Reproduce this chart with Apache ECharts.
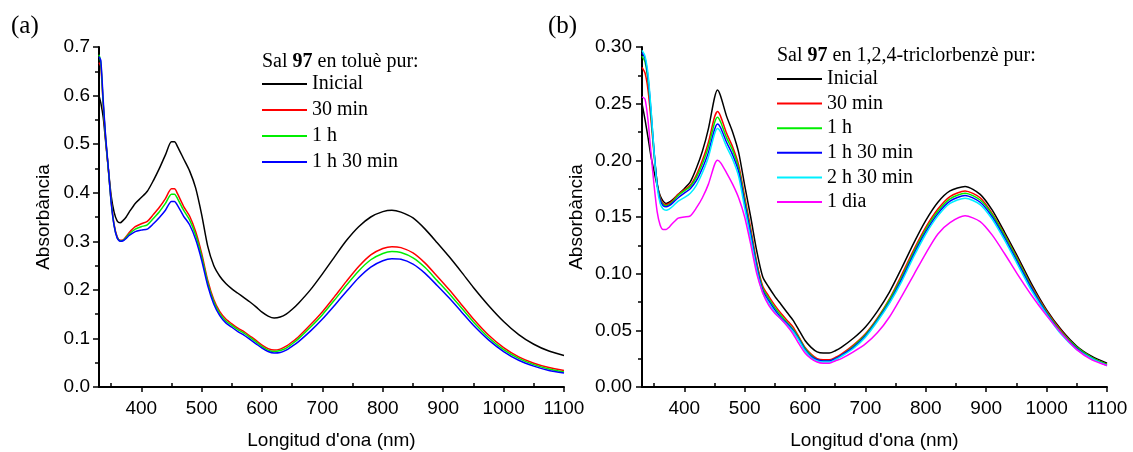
<!DOCTYPE html>
<html>
<head>
<meta charset="utf-8">
<script src="https://cdn.jsdelivr.net/npm/echarts@6/dist/echarts.min.js"></script>
<style>
html,body{margin:0;padding:0;background:#fff;}
#chart{width:1133px;height:452px;}
</style>
</head>
<body>
<div id="chart"></div>
<script>
// ---------- DATA ----------
const WL_A = [330,333,337,341,345,350,355,360,365,370,375,380,390,400,410,420,430,440,450,455,460,470,480,490,500,510,520,530,540,550,560,570,580,590,600,610,620,630,640,650,660,680,700,720,740,760,780,800,815,830,850,870,890,910,930,950,975,1000,1025,1050,1075,1100];
const A_INICIAL = [0.600,0.585,0.555,0.505,0.455,0.395,0.360,0.342,0.338,0.343,0.350,0.360,0.378,0.390,0.403,0.425,0.450,0.478,0.505,0.505,0.495,0.470,0.445,0.410,0.355,0.290,0.250,0.228,0.213,0.202,0.193,0.184,0.175,0.165,0.154,0.146,0.142,0.144,0.150,0.160,0.172,0.200,0.233,0.268,0.302,0.330,0.350,0.361,0.364,0.360,0.348,0.325,0.297,0.268,0.237,0.205,0.168,0.135,0.108,0.088,0.074,0.065];
const A_30MIN = [0.668,0.660,0.580,0.510,0.455,0.385,0.335,0.310,0.302,0.303,0.310,0.318,0.330,0.336,0.341,0.355,0.370,0.388,0.408,0.408,0.398,0.372,0.352,0.320,0.275,0.220,0.180,0.155,0.140,0.130,0.121,0.114,0.105,0.096,0.086,0.079,0.076,0.078,0.084,0.093,0.103,0.128,0.155,0.186,0.218,0.248,0.272,0.285,0.289,0.287,0.276,0.255,0.228,0.200,0.170,0.140,0.107,0.081,0.062,0.049,0.040,0.034];
const A_1H = [0.684,0.668,0.583,0.512,0.455,0.383,0.333,0.308,0.301,0.302,0.308,0.315,0.325,0.330,0.334,0.347,0.361,0.378,0.397,0.397,0.388,0.364,0.344,0.313,0.269,0.215,0.176,0.151,0.136,0.127,0.118,0.111,0.102,0.093,0.083,0.076,0.073,0.075,0.080,0.089,0.099,0.123,0.149,0.179,0.210,0.239,0.262,0.275,0.279,0.277,0.266,0.246,0.219,0.192,0.163,0.134,0.102,0.077,0.059,0.046,0.037,0.031];
const A_1H30 = [0.680,0.672,0.590,0.515,0.458,0.382,0.332,0.307,0.300,0.301,0.306,0.312,0.320,0.323,0.325,0.336,0.349,0.364,0.382,0.382,0.374,0.352,0.334,0.304,0.261,0.209,0.171,0.147,0.132,0.123,0.114,0.107,0.098,0.089,0.080,0.073,0.070,0.071,0.076,0.084,0.093,0.115,0.140,0.168,0.197,0.225,0.247,0.260,0.264,0.263,0.253,0.234,0.209,0.183,0.155,0.127,0.097,0.073,0.055,0.043,0.034,0.029];

const WL_B = [330,335,340,345,350,355,360,365,370,375,380,390,400,410,420,430,440,450,455,460,470,480,490,500,510,520,530,540,550,560,570,580,590,600,610,620,630,640,650,660,680,700,720,740,760,780,800,820,840,865,890,910,930,950,975,1000,1025,1050,1075,1100];
const B_INICIAL = [0.250,0.236,0.220,0.203,0.190,0.178,0.169,0.164,0.162,0.163,0.165,0.170,0.175,0.181,0.193,0.208,0.228,0.255,0.262,0.257,0.239,0.225,0.207,0.178,0.150,0.120,0.097,0.088,0.080,0.073,0.066,0.059,0.050,0.041,0.035,0.031,0.030,0.030,0.032,0.035,0.043,0.053,0.067,0.084,0.105,0.127,0.147,0.163,0.173,0.177,0.170,0.156,0.137,0.117,0.091,0.068,0.050,0.036,0.027,0.021];
const B_30MIN = [0.282,0.277,0.262,0.235,0.205,0.180,0.167,0.162,0.161,0.162,0.164,0.170,0.174,0.178,0.187,0.200,0.216,0.238,0.243,0.239,0.224,0.212,0.196,0.168,0.140,0.110,0.089,0.080,0.072,0.065,0.059,0.053,0.044,0.035,0.029,0.025,0.024,0.024,0.026,0.029,0.037,0.047,0.061,0.078,0.099,0.121,0.141,0.157,0.168,0.173,0.167,0.153,0.135,0.115,0.089,0.067,0.049,0.035,0.026,0.020];
const B_1H = [0.292,0.287,0.270,0.240,0.207,0.180,0.166,0.161,0.160,0.161,0.163,0.169,0.173,0.177,0.185,0.197,0.212,0.233,0.238,0.234,0.220,0.209,0.193,0.165,0.137,0.108,0.087,0.078,0.070,0.063,0.057,0.051,0.043,0.034,0.028,0.024,0.023,0.023,0.025,0.028,0.036,0.046,0.060,0.077,0.097,0.119,0.139,0.155,0.166,0.171,0.165,0.152,0.134,0.114,0.088,0.066,0.048,0.035,0.026,0.020];
const B_1H30 = [0.295,0.290,0.273,0.243,0.208,0.180,0.165,0.160,0.159,0.160,0.162,0.167,0.171,0.175,0.182,0.193,0.207,0.227,0.232,0.229,0.216,0.205,0.190,0.162,0.135,0.106,0.085,0.076,0.068,0.061,0.056,0.050,0.042,0.033,0.027,0.024,0.023,0.023,0.025,0.028,0.035,0.045,0.059,0.075,0.095,0.117,0.137,0.153,0.164,0.169,0.163,0.150,0.132,0.112,0.087,0.065,0.047,0.034,0.025,0.019];
const B_2H30 = [0.297,0.292,0.276,0.245,0.207,0.177,0.162,0.157,0.156,0.157,0.159,0.164,0.167,0.171,0.178,0.189,0.203,0.223,0.228,0.225,0.212,0.201,0.186,0.158,0.131,0.103,0.083,0.074,0.066,0.060,0.055,0.049,0.041,0.032,0.026,0.023,0.022,0.022,0.024,0.027,0.034,0.044,0.058,0.074,0.093,0.115,0.135,0.151,0.162,0.1665,0.161,0.148,0.130,0.110,0.085,0.064,0.046,0.033,0.025,0.019];
const B_1DIA = [0.256,0.254,0.235,0.206,0.178,0.155,0.143,0.139,0.139,0.141,0.144,0.149,0.150,0.151,0.158,0.167,0.179,0.196,0.200,0.198,0.189,0.179,0.167,0.150,0.126,0.100,0.083,0.072,0.065,0.060,0.054,0.047,0.038,0.030,0.025,0.022,0.021,0.021,0.023,0.025,0.031,0.038,0.048,0.062,0.080,0.099,0.118,0.135,0.145,0.151,0.146,0.134,0.118,0.101,0.081,0.063,0.047,0.033,0.024,0.019];

const NAMES_A = ['Inicial','30 min','1 h','1 h 30 min'];
const NAMES_B = ['Inicial','30 min','1 h','1 h 30 min','2 h 30 min','1 dia'];
const COLORS = ['#000000','#ff0000','#00ee00','#0000ff','#00f0ff','#ff00ff'];
const X_MAJOR = [400,500,600,700,800,900,1000,1100];
const X_MINOR = [350,450,550,650,750,850,950,1050];

// ---------- BUILD ----------
function pairs(xs, ys){ return xs.map((x,i)=>[x, ys[i]]); }
const SANS = 'Liberation Sans';
const SERIF = 'Liberation Serif';

function xAxisMajor(gi){
  return {
    type:'value', gridIndex:gi, min:330, max:1100,
    splitLine:{show:false},
    axisLine:{show:true, onZero:false, lineStyle:{color:'#000', width:2}},
    axisTick:{show:true, customValues:X_MAJOR, length:5, lineStyle:{color:'#000', width:1.5}},
    axisLabel:{customValues:X_MAJOR, color:'#000', fontFamily:SANS, fontSize:19, margin:12, formatter:v=>String(v)},
    name:"Longitud d'ona (nm)", nameLocation:'middle', nameGap:44,
    nameTextStyle:{color:'#000', fontFamily:SANS, fontSize:19}
  };
}
function xAxisMinor(gi){
  return {
    type:'value', gridIndex:gi, min:330, max:1100,
    splitLine:{show:false},
    axisLine:{show:false},
    axisTick:{show:true, customValues:X_MINOR, length:4, lineStyle:{color:'#000', width:1.5}},
    axisLabel:{show:false}
  };
}
function yAxis(gi, max, interval, dec, gap, margin){
  return {
    type:'value', gridIndex:gi, min:0, max:max, interval:interval,
    splitLine:{show:false},
    axisLine:{show:true, lineStyle:{color:'#000', width:2}},
    axisTick:{show:true, length:6, lineStyle:{color:'#000', width:1.5}},
    minorTick:{show:true, splitNumber:2, length:4, lineStyle:{color:'#000', width:1.5}},
    axisLabel:{color:'#000', fontFamily:SANS, fontSize:19, margin:margin, formatter:v=>v.toFixed(dec)},
    name:'Absorbància', nameLocation:'middle', nameGap:gap,
    nameTextStyle:{color:'#000', fontFamily:SANS, fontSize:19}
  };
}

const seriesA = [A_INICIAL, A_30MIN, A_1H, A_1H30].map((ys,i)=>({
  type:'line', name:NAMES_A[i], xAxisIndex:0, yAxisIndex:0,
  data:pairs(WL_A, ys), symbol:'none', smooth:0.25,
  lineStyle:{color:COLORS[i], width:1.5}, itemStyle:{color:COLORS[i]}, silent:true
}));
const seriesB = [B_INICIAL, B_30MIN, B_1H, B_1H30, B_2H30, B_1DIA].map((ys,i)=>({
  type:'line', name:NAMES_B[i], xAxisIndex:2, yAxisIndex:1,
  data:pairs(WL_B, ys), symbol:'none', smooth:0.25,
  lineStyle:{color:COLORS[i], width:1.5}, itemStyle:{color:COLORS[i]}, silent:true
}));

function legend(names, left, top, gap){
  return {
    data:names, orient:'vertical', left:left, top:top, padding:0,
    icon:'rect', itemWidth:45, itemHeight:2, itemGap:gap, selectedMode:false,
    textStyle:{color:'#000', fontFamily:SERIF, fontSize:20, lineHeight:20, padding:[8,0,0,0]}
  };
}

const option = {
  animation:false,
  backgroundColor:'#fff',
  grid:[
    {left:99, top:47, width:465, height:340, outerBoundsMode:'none', containLabel:false},
    {left:642, top:47, width:465, height:340, outerBoundsMode:'none', containLabel:false}
  ],
  xAxis:[xAxisMajor(0), xAxisMinor(0), xAxisMajor(1), xAxisMinor(1)],
  yAxis:[yAxis(0, 0.7, 0.1, 1, 46, 9), yAxis(1, 0.30, 0.05, 2, 56, 10)],
  legend:[legend(NAMES_A, 262, 70, -2.0), legend(NAMES_B, 777, 65, -3.4)],
  graphic:[
    {type:'text', left:11, top:14, style:{text:'(a)', fontFamily:SERIF, fontSize:25, fill:'#000'}},
    {type:'text', left:548, top:14, style:{text:'(b)', fontFamily:SERIF, fontSize:25, fill:'#000'}},
    {type:'text', x:262, y:62, style:{text:'{n|Sal }{b|97}{n| en toluè pur:}', verticalAlign:'middle',
      rich:{n:{fontFamily:SERIF, fontSize:20, fill:'#000'}, b:{fontFamily:SERIF, fontSize:20, fontWeight:'bold', fill:'#000'}}}},
    {type:'text', x:777, y:56, style:{text:'{n|Sal }{b|97}{n| en 1,2,4-triclorbenzè pur:}', verticalAlign:'middle',
      rich:{n:{fontFamily:SERIF, fontSize:20, fill:'#000'}, b:{fontFamily:SERIF, fontSize:20, fontWeight:'bold', fill:'#000'}}}}
  ],
  series:[...seriesA, ...seriesB]
};

const chart = echarts.init(document.getElementById('chart'), null, {renderer:'canvas'});
chart.setOption(option);
</script>
</body>
</html>
